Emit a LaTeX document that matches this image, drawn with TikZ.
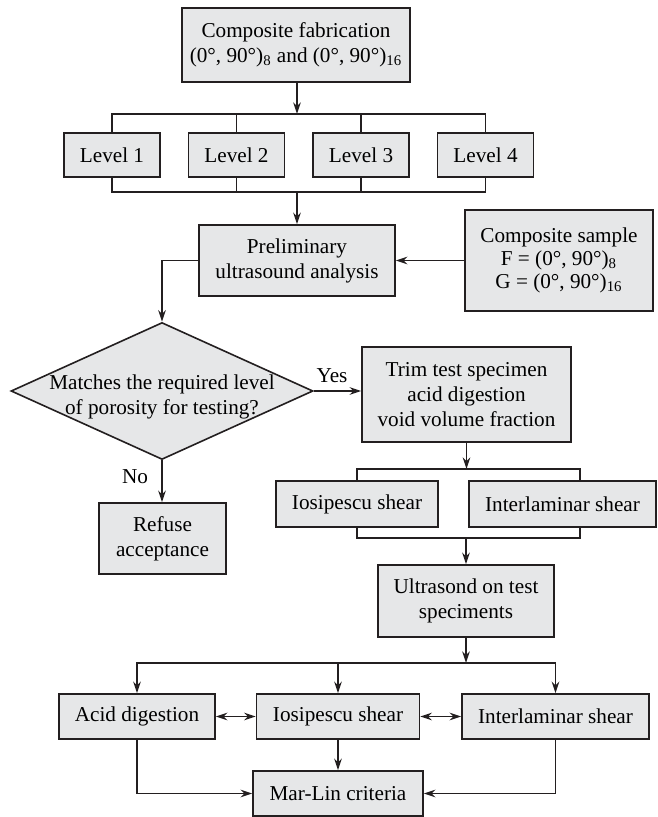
\documentclass[tikz,border=0pt]{standalone}
\usepackage{fontspec}
\setmainfont{Liberation Serif}
\usetikzlibrary{shapes.geometric,arrows.meta}
\definecolor{boxfill}{HTML}{E6E7E8}
\definecolor{ink}{HTML}{231F20}
\tikzset{
  box/.style={draw=ink, fill=boxfill, line width=0.8pt, align=center, inner sep=2pt},
  decision/.style={draw=ink, fill=boxfill, line width=0.8pt, diamond, minimum width=151pt, minimum height=68.5pt, inner sep=0pt},
  wire/.style={draw=ink, line width=0.75pt},
  tag/.style={anchor=base, inner sep=0pt},
}

\begin{document}
\begin{tikzpicture}[x=0.5pt, y=-0.5pt, >={Stealth[length=5.8pt,width=3.8pt]}, font=\fontsize{10.6}{12.5}\selectfont]
\useasboundingbox (0,0) rectangle (657,817);
% fabrication and levels
\node[box, minimum width=114pt, minimum height=37pt] (fab) at (296,45) {Composite fabrication\\(0°, 90°)\textsubscript{8} and (0°, 90°)\textsubscript{16}};
\node[box, minimum width=48pt, minimum height=22pt] (lev1) at (112,155) {Level 1};
\node[box, minimum width=48pt, minimum height=22pt] (lev2) at (236.5,155) {Level 2};
\node[box, minimum width=48pt, minimum height=22pt] (lev3) at (361,155) {Level 3};
\node[box, minimum width=48pt, minimum height=22pt] (lev4) at (485.5,155) {Level 4};
\coordinate (busA) at (297,114);
\coordinate (busB) at (297,192);
\draw[wire] (lev1.north) |- (busA) -| (lev4.north);
\draw[wire] (lev2.north) -- (lev2.north |- busA);
\draw[wire] (lev3.north) -- (lev3.north |- busA);
\draw[wire] (lev1.south) |- (busB) -| (lev4.south);
\draw[wire] (lev2.south) -- (lev2.south |- busB);
\draw[wire] (lev3.south) -- (lev3.south |- busB);
\draw[wire,->] (busA |- fab.south) -- (busA);

% preliminary analysis
\node[box, minimum width=98pt, minimum height=35.5pt] (prelim) at (297,260.5) {Preliminary\\ultrasound analysis};
\node[box, minimum width=94pt, minimum height=50.5pt, font=\fontsize{10.6}{11.5}\selectfont] (sample) at (559,260.5) {Composite sample\\F = (0°, 90°)\textsubscript{8}\\G = (0°, 90°)\textsubscript{16}};
\draw[wire,->] (busB) -- (prelim.north);
\draw[wire,->] (sample.west) -- (prelim.east);

% decision
\node[decision] (dec) at (162,391) {};
\node[align=center, inner sep=0pt] (dectext) at (162,397) {Matches the required level\\of porosity for testing?};
\draw[wire,->] (prelim.west) -| (dec.north);
\node[box, minimum width=63.5pt, minimum height=35.5pt] (refuse) at (162.5,538.5) {Refuse\\acceptance};
\node[box, minimum width=104.5pt, minimum height=47.5pt] (trim) at (466.5,394.5) {Trim test specimen\\acid digestion\\void volume fraction};
\draw[wire,->] (dec.east) -- (dec.east -| trim.west);
\draw[wire,->] (dec.south) -- (dec.south |- refuse.north);
\node[tag] (yes) at (332,382) {Yes};
\node[tag] (no) at (135,483) {No};

% shear tests
\node[box, minimum width=81pt, minimum height=23pt] (ios1) at (357,504) {Iosipescu shear};
\node[box, minimum width=93.5pt, minimum height=23pt] (inter1) at (562.5,504) {Interlaminar shear};
\coordinate (busC) at (580,469);
\coordinate (busD) at (580,538);
\draw[wire] (ios1.north) |- (busC) -- (busC |- inter1.north);
\draw[wire] (ios1.south) |- (busD) -- (busD |- inter1.south);
\draw[wire,->] (trim.south) -- (trim.south |- busC);
\node[box, minimum width=88pt, minimum height=36pt] (ultra) at (466,601) {Ultrasond on test\\speciments};
\draw[wire,->] (ultra.north |- busD) -- (ultra.north);

% final tests
\node[box, minimum width=78pt, minimum height=22.5pt] (acid) at (137,716.5) {Acid digestion};
\node[box, minimum width=81.5pt, minimum height=22.5pt] (ios2) at (338,716.5) {Iosipescu shear};
\node[box, minimum width=93.5pt, minimum height=22.5pt] (inter2) at (555.5,716.5) {Interlaminar shear};
\node[box, minimum width=85pt, minimum height=22.5pt] (marlin) at (338,793.5) {Mar-Lin criteria};
\coordinate (busE) at (466,663);
\draw[wire,->] (ultra.south) -- (busE);
\draw[wire,->] (busE) -| (acid.north);
\draw[wire,->] (busE) -| (inter2.north);
\draw[wire,->] (ios2.north |- busE) -- (ios2.north);
\draw[wire,<->] (acid.east) -- (ios2.west);
\draw[wire,<->] (ios2.east) -- (inter2.west);
\draw[wire,->] (ios2.south) -- (marlin.north);
\draw[wire,->] (acid.south) |- (marlin.west);
\draw[wire,->] (inter2.south) |- (marlin.east);
\end{tikzpicture}
\end{document}
